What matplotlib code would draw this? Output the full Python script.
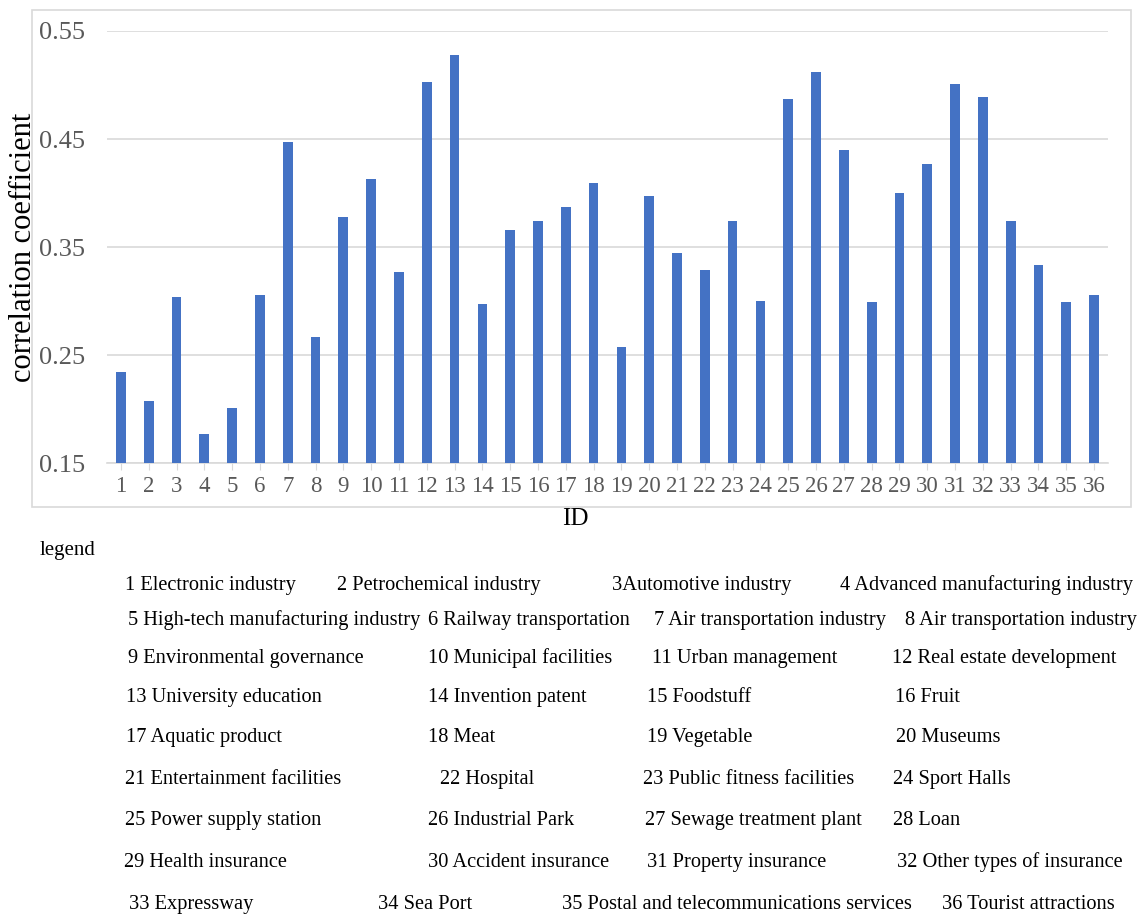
import matplotlib
matplotlib.use("Agg")
import matplotlib.pyplot as plt
from matplotlib.patches import Rectangle

plt.rcParams['font.family'] = ['Liberation Serif', 'DejaVu Serif']

# Data
ids = list(range(1, 37))
corr = [0.234, 0.207, 0.304, 0.177, 0.201, 0.306, 0.447, 0.267, 0.378, 0.413,
        0.327, 0.503, 0.528, 0.297, 0.366, 0.374, 0.387, 0.409, 0.257, 0.397,
        0.344, 0.329, 0.374, 0.300, 0.487, 0.512, 0.440, 0.299, 0.400, 0.427,
        0.501, 0.489, 0.374, 0.333, 0.299, 0.306]
y_ticks = [0.15, 0.25, 0.35, 0.45, 0.55]

legend_rows = [
    ["1 Electronic industry", "2 Petrochemical industry", "3Automotive industry", "4 Advanced manufacturing industry"],
    ["5 High-tech manufacturing industry", "6 Railway transportation", "7 Air transportation industry", "8 Air transportation industry"],
    ["9 Environmental governance", "10 Municipal facilities", "11 Urban management", "12 Real estate development"],
    ["13 University education", "14 Invention patent", "15 Foodstuff", "16 Fruit"],
    ["17 Aquatic product", "18 Meat", "19 Vegetable", "20 Museums"],
    ["21 Entertainment facilities", "22 Hospital", "23 Public fitness facilities", "24 Sport Halls"],
    ["25 Power supply station", "26 Industrial Park", "27 Sewage treatment plant", "28 Loan"],
    ["29 Health insurance", "30 Accident insurance", "31 Property insurance", "32 Other types of insurance"],
    ["33 Expressway", "34 Sea Port", "35 Postal and telecommunications services", "36 Tourist attractions"],
]

# layout of the legend text block (pixels in the 1142x914 image)
legend_x = [
    [125, 337, 612, 840],
    [128, 428, 654, 905],
    [128, 428, 652, 892],
    [126, 428, 647, 895],
    [126, 428, 647, 896],
    [125, 440, 643, 893],
    [125, 428, 645, 893],
    [124, 428, 647, 897],
    [129, 378, 562, 942],
]
legend_y = [583, 618, 656, 695, 735, 777, 818, 860, 902]

W, H = 1142, 914
fig = plt.figure(figsize=(W / 100, H / 100), dpi=100)

# light frame around the chart area
fig.patches.append(Rectangle((32 / W, 1 - 507 / H), (1131 - 32) / W, (507 - 10) / H,
                             transform=fig.transFigure, fill=False,
                             edgecolor='#d9d9d9', linewidth=1.2))

ax = fig.add_axes([107 / W, 1 - 463 / H, (1108 - 107) / W, (463 - 31) / H])
ax.bar(ids, corr, width=0.35, color='#4472c4', zorder=3)
ax.set_xlim(0.5, 36.5)
ax.set_ylim(0.15, 0.55)
ax.set_yticks(y_ticks)
ax.set_yticklabels([f"{v:.2f}" for v in y_ticks])
ax.set_xticks(ids)
ax.grid(axis='y', color='#d9d9d9', linewidth=1.2, zorder=0)
for s in ['top', 'right', 'left']:
    ax.spines[s].set_visible(False)
ax.spines['bottom'].set_color('#d9d9d9')
ax.spines['bottom'].set_linewidth(1.2)
ax.tick_params(axis='y', length=0, pad=16, labelsize=19, labelcolor='#595959')
ax.tick_params(axis='x', length=5, color='#d9d9d9', pad=4, labelsize=16.5, labelcolor='#595959')
ax.set_ylabel("correlation coefficient", fontsize=22)
ax.yaxis.set_label_coords(-0.069, 0.5)
ax.set_xlabel("ID", fontsize=18)
ax.xaxis.set_label_coords(0.468, -0.105)

fig.text(40 / W, 1 - 548 / H, "legend", fontsize=15, va='center_baseline', ha='left')
for row, xs, y in zip(legend_rows, legend_x, legend_y):
    for label, x in zip(row, xs):
        fig.text(x / W, 1 - y / H, label, fontsize=14.7, va='center_baseline', ha='left')

fig.savefig("out.png", dpi=100)
